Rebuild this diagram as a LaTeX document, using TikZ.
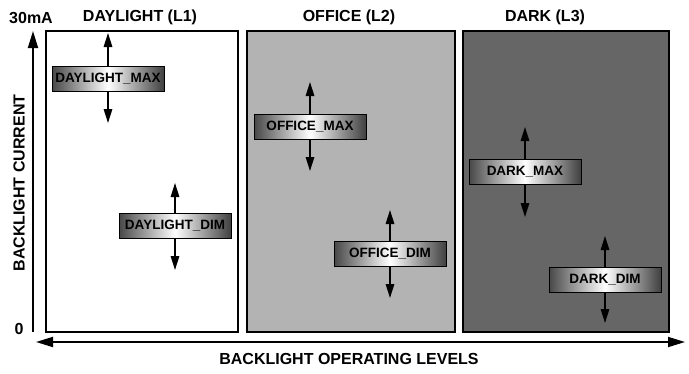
\documentclass[tikz,border=0pt]{standalone}
\usepackage{fontspec}
\setmainfont{Liberation Sans}
\usetikzlibrary{arrows.meta}
\definecolor{officegray}{HTML}{B3B3B3}
\definecolor{darkgray}{HTML}{666666}
\tikzset{
  region/.style={draw=black, line width=1.8pt, minimum width=#1, minimum height=301pt, inner sep=0pt, anchor=north west},
  title/.style={font=\fontsize{16}{18}\selectfont\bfseries, inner sep=0pt},
  axislabel/.style={font=\fontsize{16}{18}\selectfont\bfseries, inner sep=0pt},
  levelbox/.style={draw=black, line width=0.9pt, minimum width=112pt, minimum height=25pt, inner sep=0pt,
     shading=axis, left color=black!72, right color=black!75, middle color=white,
     font=\fontsize{13.5}{15}\selectfont\bfseries},
  arr/.style={line width=1.5pt, -{Triangle[length=14pt,width=8.5pt]}},
  axisarr/.style={line width=1.8pt, -{Triangle[length=17pt,width=10pt]}},
  axisdbl/.style={line width=1.8pt, {Triangle[length=17pt,width=10pt]}-{Triangle[length=17pt,width=10pt]}}
}
\begin{document}
\begin{tikzpicture}[x=1pt,y=-1pt]
\useasboundingbox (0,0) rectangle (689,373);
% regions
\node[region=192pt, fill=white] (r1) at (45,30) {};
\node[region=208pt, fill=officegray] (r2) at (246,30) {};
\node[region=206pt, fill=darkgray] (r3) at (462,30) {};
% titles
\node[title] (t1) at (140,17) {DAYLIGHT (L1)};
\node[title] (t2) at (349,17) {OFFICE (L2)};
\node[title] (t3) at (545,17) {DARK (L3)};
% axes
\coordinate (ybot) at (33,332);
\coordinate (ytop) at (33,31);
\draw[axisarr] (ybot) -- (ytop);
\node[axislabel] (ymax) at (31,18) {30mA};
\node[axislabel] (yzero) at (19,329) {0};
\node[axislabel, rotate=90] (ylab) at (19,183) {BACKLIGHT CURRENT};
\coordinate (xl) at (36,342);
\coordinate (xr) at (685,342);
\draw[axisdbl] (xl) -- (xr);
\node[axislabel] (xlab) at (349,359) {BACKLIGHT OPERATING LEVELS};
% level arrows (free ends)
\coordinate (dmaxT) at (108,33);  \coordinate (dmaxB) at (108,123);
\coordinate (ddimT) at (175,183); \coordinate (ddimB) at (175,270);
\coordinate (omaxT) at (310,82);  \coordinate (omaxB) at (310,171);
\coordinate (odimT) at (390,210); \coordinate (odimB) at (390,298);
\coordinate (kmaxT) at (525,127); \coordinate (kmaxB) at (525,217);
\coordinate (kdimT) at (605,236); \coordinate (kdimB) at (605,323);
% level boxes
\node[levelbox] (dmax) at (108,79) {DAYLIGHT\_MAX};
\node[levelbox] (ddim) at (175,226) {DAYLIGHT\_DIM};
\node[levelbox] (omax) at (310,126.5) {OFFICE\_MAX};
\node[levelbox] (odim) at (390,254) {OFFICE\_DIM};
\node[levelbox] (kmax) at (525,171.5) {DARK\_MAX};
\node[levelbox] (kdim) at (605,279.5) {DARK\_DIM};
\foreach \n in {dmax,ddim,omax,odim,kmax,kdim}{
  \draw[arr] (\n.north) -- (\n T);
  \draw[arr] (\n.south) -- (\n B);
}
\end{tikzpicture}
\end{document}
